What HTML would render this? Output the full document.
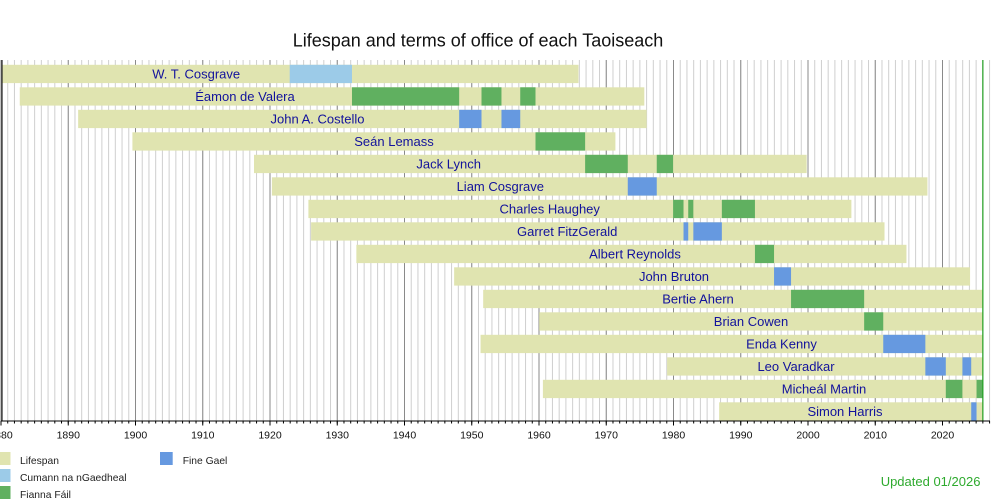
<!DOCTYPE html>
<html><head><meta charset="utf-8"><style>
html,body{margin:0;padding:0;background:#fff;}
svg{display:block;}
text{font-family:"Liberation Sans",Arial,sans-serif;}
</style></head><body>
<svg width="1000" height="500" viewBox="0 0 1000 500" xmlns="http://www.w3.org/2000/svg">
<rect width="1000" height="500" fill="#fff"/>
<text x="478" y="46.7" font-size="18" text-anchor="middle" fill="#111">Lifespan and terms of office of each Taoiseach</text>

<!-- grid -->
<line x1="0.5" y1="240.5" x2="990.5" y2="240.5" stroke="#cfcfcf" stroke-width="361" stroke-dasharray="1 5.725"/>
<line x1="0.5" y1="240.5" x2="990.5" y2="240.5" stroke="#8a8a8a" stroke-width="361" stroke-dasharray="1 66.25"/>

<!-- lifespans -->
<g fill="#e0e4b0">
<rect x="2" y="64.8" width="576.5" height="18.3"/>
<rect x="19.76" y="87.3" width="624.55" height="18.3"/>
<rect x="78.14" y="109.8" width="568.53" height="18.3"/>
<rect x="132.41" y="132.3" width="482.99" height="18.3"/>
<rect x="254" y="154.8" width="552.66" height="18.3"/>
<rect x="271.88" y="177.3" width="655.56" height="18.3"/>
<rect x="308.4" y="199.8" width="542.98" height="18.3"/>
<rect x="311.09" y="222.3" width="573.44" height="18.3"/>
<rect x="356.35" y="244.8" width="550.1" height="18.3"/>
<rect x="454.13" y="267.3" width="515.94" height="18.3"/>
<rect x="483.18" y="289.8" width="499.67" height="18.3"/>
<rect x="539.2" y="312.3" width="443.65" height="18.3"/>
<rect x="480.56" y="334.8" width="502.29" height="18.3"/>
<rect x="667.11" y="357.3" width="315.74" height="18.3"/>
<rect x="542.9" y="379.8" width="439.95" height="18.3"/>
<rect x="719.16" y="402.3" width="263.69" height="18.3"/>
</g>

<!-- Cumann na nGaedheal -->
<rect x="289.7" y="64.8" width="62.28" height="18.3" fill="#9ccbe8"/>

<!-- Fianna Fail -->
<g fill="#60b060">
<rect x="351.98" y="87.3" width="107.19" height="18.3"/>
<rect x="481.5" y="87.3" width="19.97" height="18.3"/>
<rect x="520.24" y="87.3" width="15.26" height="18.3"/>
<rect x="535.5" y="132.3" width="49.63" height="18.3"/>
<rect x="585.13" y="154.8" width="42.64" height="18.3"/>
<rect x="656.75" y="154.8" width="16.35" height="18.3"/>
<rect x="673.1" y="199.8" width="10.42" height="18.3"/>
<rect x="688.23" y="199.8" width="5.11" height="18.3"/>
<rect x="721.85" y="199.8" width="33.09" height="18.3"/>
<rect x="754.94" y="244.8" width="19.1" height="18.3"/>
<rect x="791.05" y="289.8" width="73.1" height="18.3"/>
<rect x="864.15" y="312.3" width="19.1" height="18.3"/>
<rect x="945.8" y="379.8" width="16.61" height="18.3"/>
<rect x="976.53" y="379.8" width="6.32" height="18.3"/>
</g>

<!-- Fine Gael -->
<g fill="#6699e0">
<rect x="459.17" y="109.8" width="22.33" height="18.3"/>
<rect x="501.47" y="109.8" width="18.77" height="18.3"/>
<rect x="627.77" y="177.3" width="28.98" height="18.3"/>
<rect x="683.52" y="222.3" width="4.71" height="18.3"/>
<rect x="693.34" y="222.3" width="28.51" height="18.3"/>
<rect x="774.04" y="267.3" width="17.01" height="18.3"/>
<rect x="883.25" y="334.8" width="42.1" height="18.3"/>
<rect x="925.35" y="357.3" width="20.45" height="18.3"/>
<rect x="962.41" y="357.3" width="8.81" height="18.3"/>
<rect x="971.22" y="402.3" width="5.31" height="18.3"/>
</g>

<!-- labels -->
<g font-size="13" fill="#12129c" text-anchor="middle">
<text x="196.2" y="78.4">W. T. Cosgrave</text>
<text x="245" y="100.9">Éamon de Valera</text>
<text x="317.5" y="123.4">John A. Costello</text>
<text x="394" y="145.9">Seán Lemass</text>
<text x="448.7" y="168.4">Jack Lynch</text>
<text x="500.3" y="190.9">Liam Cosgrave</text>
<text x="549.7" y="213.4">Charles Haughey</text>
<text x="567.2" y="235.9">Garret FitzGerald</text>
<text x="635" y="258.4">Albert Reynolds</text>
<text x="674" y="280.9">John Bruton</text>
<text x="698" y="303.4">Bertie Ahern</text>
<text x="751" y="325.9">Brian Cowen</text>
<text x="781.5" y="348.4">Enda Kenny</text>
<text x="796" y="370.9">Leo Varadkar</text>
<text x="824" y="393.4">Micheál Martin</text>
<text x="845" y="415.9">Simon Harris</text>
</g>

<!-- now line -->
<line x1="982.85" y1="60" x2="982.85" y2="421" stroke="#22a022" stroke-width="1.2"/>

<!-- axes -->
<line x1="2" y1="60" x2="2" y2="421" stroke="#222" stroke-width="1.2"/>
<line x1="1" y1="421" x2="990" y2="421" stroke="#000" stroke-width="1"/>
<line x1="0.5" y1="422.25" x2="990.5" y2="422.25" stroke="#000" stroke-width="2.5" stroke-dasharray="1 5.725"/>
<line x1="0.5" y1="423.25" x2="990.5" y2="423.25" stroke="#000" stroke-width="4.5" stroke-dasharray="1 66.25"/>

<g font-size="10.5" fill="#111" text-anchor="middle">
<text x="1" y="438.5">1880</text>
<text x="68.25" y="438.5">1890</text>
<text x="135.5" y="438.5">1900</text>
<text x="202.75" y="438.5">1910</text>
<text x="270" y="438.5">1920</text>
<text x="337.25" y="438.5">1930</text>
<text x="404.5" y="438.5">1940</text>
<text x="471.75" y="438.5">1950</text>
<text x="539" y="438.5">1960</text>
<text x="606.25" y="438.5">1970</text>
<text x="673.5" y="438.5">1980</text>
<text x="740.75" y="438.5">1990</text>
<text x="808" y="438.5">2000</text>
<text x="875.25" y="438.5">2010</text>
<text x="942.5" y="438.5">2020</text>
</g>

<!-- legend -->
<rect x="0" y="452" width="10.5" height="13" fill="#e0e4b0"/>
<rect x="0" y="469" width="10.5" height="13" fill="#9ccbe8"/>
<rect x="0" y="486" width="10.5" height="13" fill="#60b060"/>
<rect x="160" y="452" width="12.7" height="13" fill="#6699e0"/>
<g font-size="10.3" fill="#222">
<text x="20" y="464">Lifespan</text>
<text x="20" y="481.2">Cumann na nGaedheal</text>
<text x="20" y="498.2">Fianna Fáil</text>
<text x="182.7" y="464">Fine Gael</text>
</g>

<text x="880.7" y="486" font-size="13" fill="#2eaa2e">Updated 01/2026</text>
</svg>
</body></html>
